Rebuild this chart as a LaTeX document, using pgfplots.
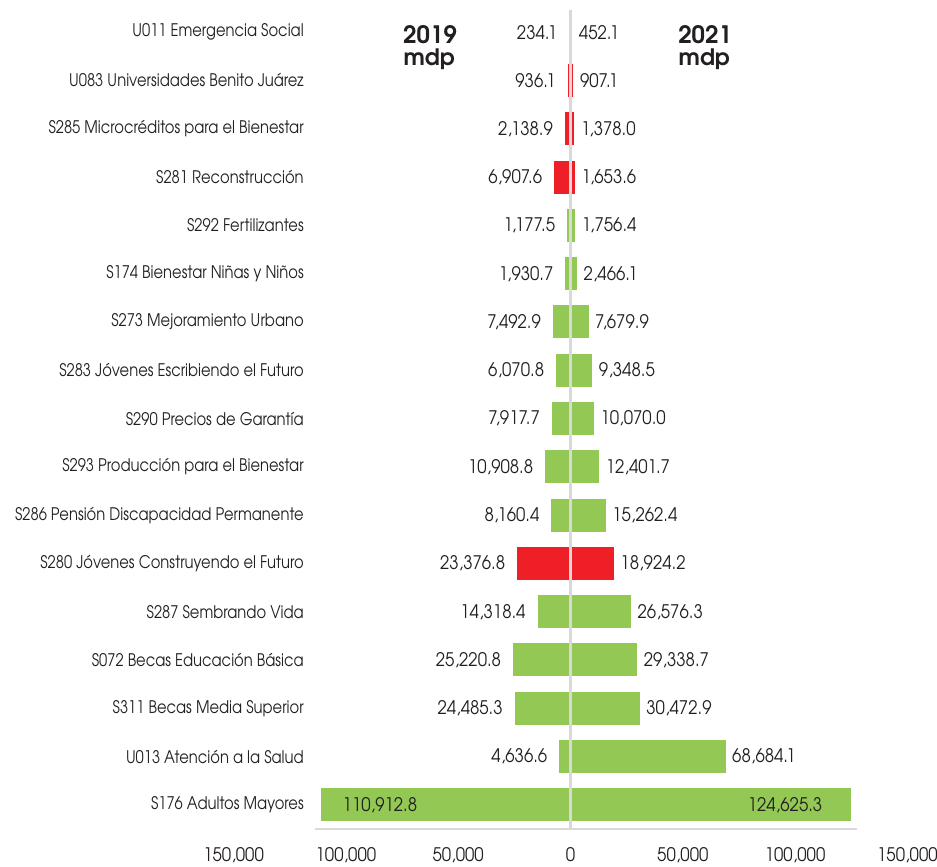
\documentclass[border=0pt]{standalone}
\usepackage{fontspec}
\usepackage{pgfplots}
\pgfplotsset{compat=1.18}
\newfontfamily\lbl{texgyreadventor-regular.otf}[FakeStretch=0.85]
\newfontfamily\numf{texgyreadventor-regular.otf}[FakeStretch=0.9]
\newfontfamily\hdr{texgyreadventor-bold.otf}
\newcommand\lblfont{\lbl\fontsize{13pt}{15pt}\selectfont}
\newcommand\numfont{\numf\fontsize{14pt}{16pt}\selectfont}
\newcommand\hdrfont{\hdr\fontsize{18pt}{20pt}\selectfont}
\newcommand\hdrfontb{\hdr\fontsize{17pt}{19pt}\selectfont}
\definecolor{gr}{HTML}{92C853}
\definecolor{rd}{HTML}{EE1F26}
\definecolor{ln}{HTML}{D9D9D9}
\definecolor{tx}{HTML}{231F20}
\pgfplotsset{
  mybar/.style={xbar, bar width=0.65, bar shift=0pt, draw=#1, line width=1.2pt, fill=#1,
    point meta=explicit,
    nodes near coords={\pgfmathprintnumber[fixed,fixed zerofill,precision=1,1000 sep={,}]{\pgfplotspointmeta}}},
  lefts/.style={every node near coord/.append style={anchor=east, xshift=-9pt, inner sep=0pt, font=\numfont, text=tx}},
  rights/.style={every node near coord/.append style={anchor=west, xshift=5pt, inner sep=0pt, font=\numfont, text=tx}},
}
\begin{document}
\begin{tikzpicture}
\path[use as bounding box] (-175.2pt,-27.75pt) rectangle (527.55pt,621.75pt);
\begin{axis}[
  at={(0pt,0pt)}, anchor=south west, scale only axis,
  width=505.35pt, height=615.75pt,
  xmin=-150000, xmax=150000, ymin=-0.5, ymax=16.5,
  clip=false,
  axis line style={draw=none},
  major tick length=0pt,
  /pgf/number format/assume math mode=true,
  xtick={-150000,-100000,-50000,0,50000,100000,150000},
  xticklabels={{150,000},{100,000},{50,000},0,{50,000},{100,000},{150,000}},
  xticklabel style={font=\numfont, text=tx, anchor=north, inner sep=0pt, yshift=-13.8pt},
  ytick={0,...,16},
  yticklabels={
    {S176 Adultos Mayores},
    {U013 Atención a la Salud},
    {S311 Becas Media Superior},
    {S072 Becas Educación Básica},
    {S287 Sembrando Vida},
    {S280 Jóvenes Construyendo el Futuro},
    {S286 Pensión Discapacidad Permanente},
    {S293 Producción para el Bienestar},
    {S290 Precios de Garantía},
    {S283 Jóvenes Escribiendo el Futuro},
    {S273 Mejoramiento Urbano},
    {S174 Bienestar Niñas y Niños},
    {S292 Fertilizantes},
    {S281 Reconstrucción},
    {S285 Microcréditos para el Bienestar},
    {U083 Universidades Benito Juárez},
    {U011 Emergencia Social}},
  yticklabel style={font=\lblfont, text=tx, anchor=east, inner sep=0pt, xshift=52.8pt},
]
% 2019 (left)
\addplot[mybar=gr, lefts] coordinates {
  (-234.1,16) [234.1]
  (-1177.5,12) [1177.5]
  (-1930.7,11) [1930.7]
  (-7492.9,10) [7492.9]
  (-6070.8,9) [6070.8]
  (-7917.7,8) [7917.7]
  (-10908.8,7) [10908.8]
  (-8160.4,6) [8160.4]
  (-14318.4,4) [14318.4]
  (-25220.8,3) [25220.8]
  (-24485.3,2) [24485.3]
  (-4636.6,1) [4636.6]
};
\addplot[mybar=rd, lefts] coordinates {
  (-936.1,15) [936.1]
  (-2138.9,14) [2138.9]
  (-6907.6,13) [6907.6]
  (-23376.8,5) [23376.8]
};
\addplot[mybar=gr, every node near coord/.append style={anchor=west, xshift=15.4pt, inner sep=0pt, font=\numfont, text=tx}] coordinates {
  (-110912.8,0) [110912.8]
};
% 2021 (right)
\addplot[mybar=gr, rights] coordinates {
  (452.1,16) [452.1]
  (1756.4,12) [1756.4]
  (2466.1,11) [2466.1]
  (7679.9,10) [7679.9]
  (9348.5,9) [9348.5]
  (10070.0,8) [10070.0]
  (12401.7,7) [12401.7]
  (15262.4,6) [15262.4]
  (26576.3,4) [26576.3]
  (29338.7,3) [29338.7]
  (30472.9,2) [30472.9]
  (68684.1,1) [68684.1]
};
\addplot[mybar=rd, rights] coordinates {
  (907.1,15) [907.1]
  (1378.0,14) [1378.0]
  (1653.6,13) [1653.6]
  (18924.2,5) [18924.2]
};
\addplot[mybar=gr, every node near coord/.append style={anchor=east, xshift=-20.5pt, inner sep=0pt, font=\numfont, text=tx}] coordinates {
  (124625.3,0) [124625.3]
};
% guide lines
\addplot[ln, line width=2.2pt, no marks] coordinates {(0,-0.5) (0,16.46)};
\addplot[ln, line width=1.7pt, no marks] coordinates {(-113750,-0.5) (127550,-0.5)};
% headers
\node[anchor=base west, inner sep=0pt, font=\hdrfont, text=tx] at (axis cs:-74600,15.77) {2019};
\node[anchor=base west, inner sep=0pt, font=\hdrfontb, text=tx] at (axis cs:-74400,15.30) {mdp};
\node[anchor=base west, inner sep=0pt, font=\hdrfont, text=tx] at (axis cs:47860,15.77) {2021};
\node[anchor=base west, inner sep=0pt, font=\hdrfontb, text=tx] at (axis cs:48060,15.30) {mdp};
\end{axis}
\end{tikzpicture}
\end{document}
